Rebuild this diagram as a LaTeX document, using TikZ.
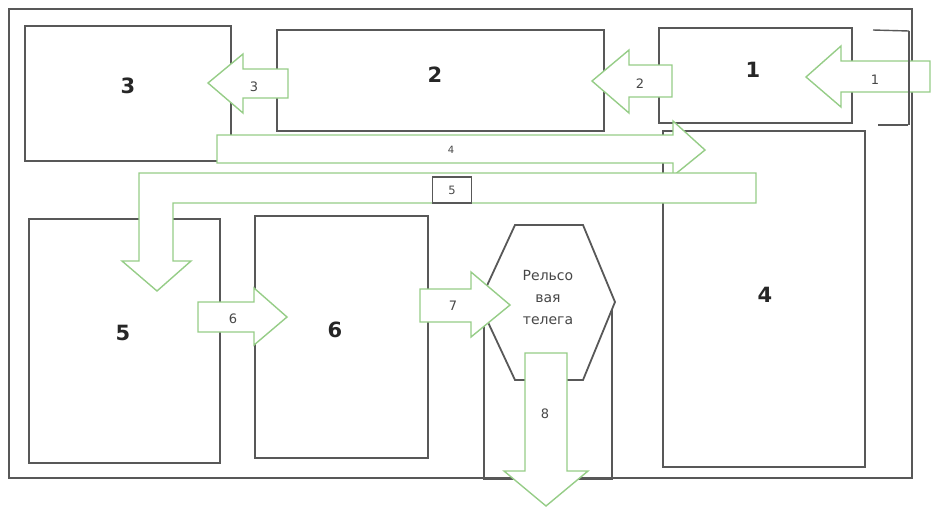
\documentclass[tikz,border=0pt]{standalone}
\usepackage{fontspec}
\setmainfont{DejaVu Sans}
\definecolor{gline}{RGB}{88,88,88}
\definecolor{garrow}{RGB}{150,205,135}
\begin{document}
\begin{tikzpicture}[x=1pt,y=-1pt,
  box/.style={draw=gline,line width=1.8pt,inner sep=0pt,anchor=north west},
  blk/.style={draw=garrow,line width=1.4pt,fill=white,line join=miter},
  big/.style={font=\bfseries\fontsize{21}{24}\selectfont,text=black!85,inner sep=0pt},
  small/.style={font=\fontsize{13}{15}\selectfont,text=black!72,inner sep=0pt},
]
\useasboundingbox (0,0) rectangle (946,512);
% outer frame
\node[box,minimum width=903pt,minimum height=469pt] (frame) at (8,8) {};
% rooms
\node[box,minimum width=206pt,minimum height=135pt] (b3) at (24,25) {};
\node[box,minimum width=327pt,minimum height=101pt] (b2) at (276,29) {};
\node[box,minimum width=193pt,minimum height=95pt] (b1) at (658,27) {};
\node[box,minimum width=202pt,minimum height=336pt] (b4) at (662,130) {};
\node[box,minimum width=191pt,minimum height=244pt] (b5) at (28,218) {};
\node[box,minimum width=173pt,minimum height=242pt] (b6) at (254,215) {};
\node[box,minimum width=128pt,minimum height=178pt] (rails) at (483,300) {};
% rail cart hexagon
\draw[gline,line width=1.8pt,fill=white] (515,225) -- (583,225) -- (615,302) -- (583,380) -- (515,380) -- (479,303) -- cycle;
\node[font=\fontsize{14}{22}\selectfont,text=black!72,align=center] (cart) at (548,297) {Рельсо\\вая\\телега};
% block arrows
\draw[blk] (930,61) -- (841,61) -- (841,46) -- (806,77) -- (841,107) -- (841,92) -- (930,92) -- cycle;
\draw[blk] (672,65) -- (629,65) -- (629,50) -- (592,81) -- (629,113) -- (629,97) -- (672,97) -- cycle;
\draw[blk] (288,69) -- (243,69) -- (243,54) -- (208,83) -- (243,113) -- (243,98) -- (288,98) -- cycle;
\draw[blk] (217,135) -- (673,135) -- (673,121) -- (705,150) -- (673,176) -- (673,163) -- (217,163) -- cycle;
\draw[blk] (756,173) -- (139,173) -- (139,261) -- (122,261) -- (157,291) -- (191,261) -- (173,261) -- (173,203) -- (756,203) -- cycle;
\draw[blk] (198,302) -- (254,302) -- (254,288) -- (287,317) -- (254,345) -- (254,332) -- (198,332) -- cycle;
\draw[blk] (420,289) -- (471,289) -- (471,272) -- (510,305) -- (471,337) -- (471,322) -- (420,322) -- cycle;
\draw[blk] (525,353) -- (567,353) -- (567,471) -- (588,471) -- (546,506) -- (504,471) -- (525,471) -- cycle;
% door marks
\draw[gline,line width=1.4pt] (873,30) -- (909,31);
\draw[gline,line width=1.4pt] (878,125) -- (908,125);
\draw[gline,line width=2.2pt] (909,31) -- (909,125);
% arrow labels
\node[small] (l1) at (875,80) {1};
\node[small] (l2) at (640,84) {2};
\node[small] (l3) at (254,87) {3};
\node[small,font=\fontsize{10}{12}\selectfont] (l4) at (451,150) {4};
\node[draw=gline,line width=1.3pt,fill=white,minimum width=39pt,minimum height=26pt,inner sep=0pt,font=\fontsize{11.5}{13}\selectfont,text=black!72] (l5) at (452,190) {5};
\node[small] (l6) at (233,319) {6};
\node[small] (l7) at (453,306) {7};
\node[small] (l8) at (545,414) {8};
% room labels
\node[big] (t1) at (753,70) {1};
\node[big] (t2) at (435,75) {2};
\node[big] (t3) at (128,86) {3};
\node[big] (t4) at (765,295) {4};
\node[big] (t5) at (123,333) {5};
\node[big] (t6) at (335,330) {6};
\end{tikzpicture}
\end{document}
